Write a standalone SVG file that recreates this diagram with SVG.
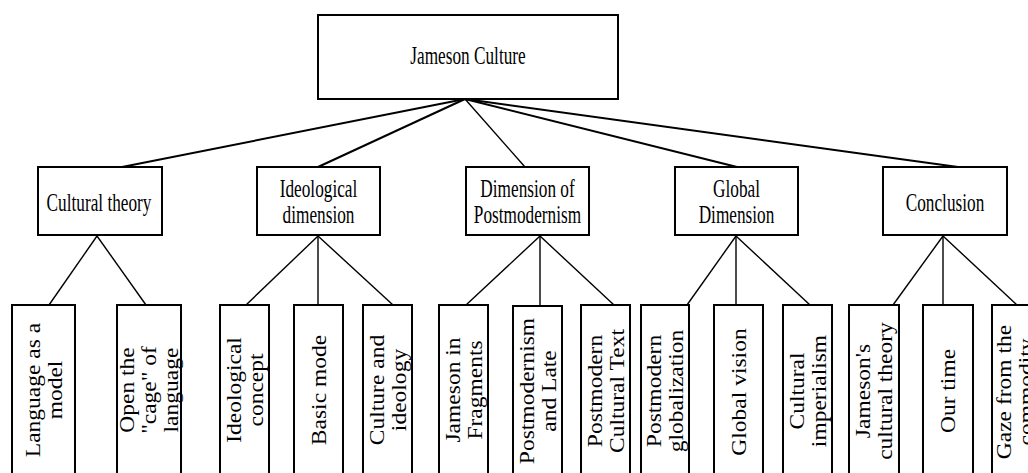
<svg xmlns="http://www.w3.org/2000/svg" width="1028" height="473" viewBox="0 0 1028 473">
<style>
.box{fill:#fff;stroke:#000;stroke-width:2}
.lbl{font-family:"Liberation Serif","Times New Roman",serif;font-size:25px;text-anchor:middle;fill:#000}
.leaf{font-family:"Liberation Serif","Times New Roman",serif;font-size:21px;text-anchor:middle;fill:#000}
.c1{stroke:#000;stroke-width:2;fill:none}
.c2{stroke:#000;stroke-width:1.4;fill:none}
</style>
<rect width="1028" height="473" fill="#fff"/>
<g id="connectors">
<line class="c1" x1="465" y1="99" x2="122" y2="167"/>
<line class="c1" x1="465" y1="99" x2="318" y2="167"/>
<line class="c2" x1="465" y1="99" x2="525" y2="167"/>
<line class="c1" x1="465" y1="99" x2="737" y2="167"/>
<line class="c1" x1="465" y1="99" x2="958" y2="167"/>
<line class="c2" x1="97" y1="236" x2="49" y2="305"/>
<line class="c2" x1="97" y1="236" x2="146" y2="305"/>
<line class="c2" x1="318" y1="236" x2="246" y2="305"/>
<line class="c2" x1="318" y1="236" x2="318" y2="305"/>
<line class="c2" x1="318" y1="236" x2="393" y2="305"/>
<line class="c2" x1="540" y1="236" x2="466" y2="305"/>
<line class="c2" x1="540" y1="236" x2="540" y2="305"/>
<line class="c2" x1="540" y1="236" x2="614" y2="305"/>
<line class="c2" x1="736" y1="236" x2="687" y2="305"/>
<line class="c2" x1="736" y1="236" x2="736" y2="305"/>
<line class="c2" x1="736" y1="236" x2="810" y2="305"/>
<line class="c2" x1="943" y1="236" x2="893" y2="305"/>
<line class="c2" x1="943" y1="236" x2="943" y2="305"/>
<line class="c2" x1="943" y1="236" x2="1017" y2="305"/>
</g>
<g id="root">
<rect class="box" x="318" y="15" width="300" height="84"/>
<text class="lbl" transform="translate(468,64) scale(0.69,1)">Jameson Culture</text>
</g>
<g id="cultural-theory">
<rect class="box" x="38" y="167" width="124" height="68"/>
<text class="lbl" transform="translate(99,211) scale(0.69,1)">Cultural theory</text>
</g>
<g id="ideological-dimension">
<rect class="box" x="257" y="167" width="123" height="68"/>
<text class="lbl" transform="translate(318.5,197) scale(0.69,1)">Ideological</text>
<text class="lbl" transform="translate(318.5,223) scale(0.69,1)">dimension</text>
</g>
<g id="dimension-postmodernism">
<rect class="box" x="466" y="167" width="123" height="68"/>
<text class="lbl" transform="translate(527.5,197) scale(0.69,1)">Dimension of</text>
<text class="lbl" transform="translate(527.5,223) scale(0.69,1)">Postmodernism</text>
</g>
<g id="global-dimension">
<rect class="box" x="675" y="167" width="123" height="68"/>
<text class="lbl" transform="translate(736.5,197) scale(0.69,1)">Global</text>
<text class="lbl" transform="translate(736.5,223) scale(0.69,1)">Dimension</text>
</g>
<g id="conclusion">
<rect class="box" x="883" y="167" width="124" height="68"/>
<text class="lbl" transform="translate(945,211) scale(0.69,1)">Conclusion</text>
</g>
<g id="leaf1">
<rect class="box" x="12" y="305" width="63" height="180"/>
<g transform="translate(43.5,390) rotate(-90) scale(1.12,1)"><text class="leaf" y="-4">Language as a</text><text class="leaf" y="18">model</text></g>
</g>
<g id="leaf2">
<rect class="box" x="117" y="305" width="64" height="180"/>
<g transform="translate(149,390) rotate(-90) scale(1.12,1)"><text class="leaf" y="-15">Open the</text><text class="leaf" y="7">"cage" of</text><text class="leaf" y="29">language</text></g>
</g>
<g id="leaf3">
<rect class="box" x="220" y="305" width="49" height="180"/>
<g transform="translate(244.5,390) rotate(-90) scale(1.12,1)"><text class="leaf" y="-4">Ideological</text><text class="leaf" y="18">concept</text></g>
</g>
<g id="leaf4">
<rect class="box" x="294" y="305" width="49" height="180"/>
<g transform="translate(318.5,390) rotate(-90) scale(1.12,1)"><text class="leaf" y="7">Basic mode</text></g>
</g>
<g id="leaf5">
<rect class="box" x="363" y="305" width="49" height="180"/>
<g transform="translate(387.5,390) rotate(-90) scale(1.12,1)"><text class="leaf" y="-4">Culture and</text><text class="leaf" y="18">ideology</text></g>
</g>
<g id="leaf6">
<rect class="box" x="439" y="305" width="49" height="180"/>
<g transform="translate(463.5,390) rotate(-90) scale(1.12,1)"><text class="leaf" y="-4">Jameson in</text><text class="leaf" y="18">Fragments</text></g>
</g>
<g id="leaf7">
<rect class="box" x="513" y="306" width="49" height="180"/>
<g transform="translate(537.5,391) rotate(-90) scale(1.12,1)"><text class="leaf" y="-4">Postmodernism</text><text class="leaf" y="18">and Late</text></g>
</g>
<g id="leaf8">
<rect class="box" x="581" y="305" width="49" height="180"/>
<g transform="translate(605.5,391) rotate(-90) scale(1.12,1)"><text class="leaf" y="-4">Postmodern</text><text class="leaf" y="18">Cultural Text</text></g>
</g>
<g id="leaf9">
<rect class="box" x="641" y="305" width="48" height="180"/>
<g transform="translate(665,391) rotate(-90) scale(1.12,1)"><text class="leaf" y="-4">Postmodern</text><text class="leaf" y="18">globalization</text></g>
</g>
<g id="leaf10">
<rect class="box" x="714" y="305" width="49" height="180"/>
<g transform="translate(738.5,392) rotate(-90) scale(1.12,1)"><text class="leaf" y="7">Global vision</text></g>
</g>
<g id="leaf11">
<rect class="box" x="783" y="305" width="49" height="180"/>
<g transform="translate(807.5,391) rotate(-90) scale(1.12,1)"><text class="leaf" y="-4">Cultural</text><text class="leaf" y="18">imperialism</text></g>
</g>
<g id="leaf12">
<rect class="box" x="849" y="305" width="50" height="180"/>
<g transform="translate(874,391) rotate(-90) scale(1.12,1)"><text class="leaf" y="-4">Jameson's</text><text class="leaf" y="18">cultural theory</text></g>
</g>
<g id="leaf13">
<rect class="box" x="923" y="305" width="50" height="180"/>
<g transform="translate(948,391) rotate(-90) scale(1.12,1)"><text class="leaf" y="7">Our time</text></g>
</g>
<g id="leaf14">
<rect class="box" x="992" y="305" width="50" height="180"/>
<g transform="translate(1016,392) rotate(-90) scale(1.12,1)"><text class="leaf" y="-5">Gaze from the</text><text class="leaf" y="17">commodity</text></g>
</g>
</svg>
